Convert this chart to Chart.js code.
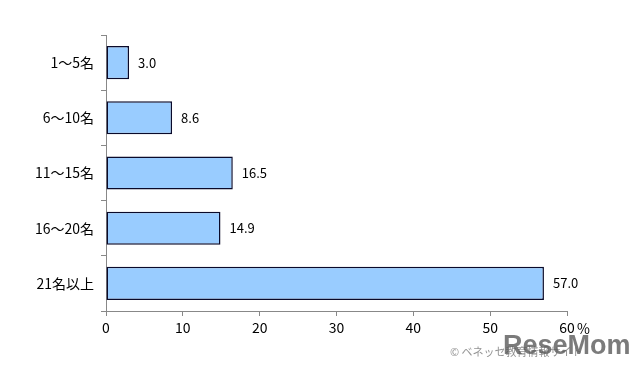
<!DOCTYPE html>
<html>
<head>
<meta charset="utf-8">
<script src="https://cdn.jsdelivr.net/npm/chart.js@4"></script>
<style>
  html, body { margin: 0; padding: 0; background: #fff; }
  #wrap { width: 640px; height: 370px; position: relative; }
</style>
</head>
<body>
<div id="wrap"><canvas id="grafico"></canvas></div>
<script>
const categorias = ['1～5名', '6～10名', '11～15名', '16～20名', '21名以上'];
const valores = [3.0, 8.6, 16.5, 14.9, 57.0];
const ticksX = [0, 10, 20, 30, 40, 50, 60];

const fonte = '"Noto Sans CJK JP", "Noto Sans", sans-serif';

// rótulos de valor à direita das barras + "%" e marca d'água
const extras = {
  id: 'extras',
  afterDatasetsDraw(chart) {
    const ctx = chart.ctx;
    const meta = chart.getDatasetMeta(0);
    ctx.save();
    ctx.font = '13px ' + fonte;
    ctx.fillStyle = '#000';
    ctx.textBaseline = 'middle';
    ctx.textAlign = 'left';
    meta.data.forEach((bar, i) => {
      ctx.fillText(valores[i].toFixed(1), bar.x + 9, bar.y);
    });

    const x = chart.scales.x;
    ctx.font = '14px ' + fonte;
    ctx.fillText('%', x.getPixelForValue(60) + 10, 329);

    ctx.fillStyle = 'rgba(110,110,110,0.75)';
    ctx.font = '11px ' + fonte;
    ctx.fillText('© ベネッセ教育情報サイト', 450, 352);
    ctx.fillStyle = 'rgba(90,90,90,0.8)';
    ctx.font = 'bold 27px "Liberation Sans", sans-serif';
    ctx.fillText('ReseMom', 503, 347);
    ctx.restore();
  }
};

new Chart(document.getElementById('grafico'), {
  type: 'bar',
  data: {
    labels: categorias,
    datasets: [{
      data: valores,
      backgroundColor: '#99ccff',
      borderColor: '#0a0a2a',
      borderWidth: 1.5,
      borderSkipped: false,
      barPercentage: 0.6,
      categoryPercentage: 1
    }]
  },
  options: {
    indexAxis: 'y',
    responsive: true,
    maintainAspectRatio: false,
    animation: false,
    layout: { padding: { top: 35, right: 73, left: 0, bottom: 0 } },
    plugins: {
      legend: { display: false },
      tooltip: { enabled: false }
    },
    scales: {
      x: {
        min: 0,
        max: 60,
        afterBuildTicks(scale) { scale.ticks = ticksX.map(v => ({ value: v })); },
        afterFit(scale) { scale.height = 59; },
        grid: { display: true, drawOnChartArea: false, drawTicks: true, tickLength: 5, color: '#888' },
        border: { color: '#888', width: 1 },
        ticks: { color: '#000', font: { family: fonte, size: 14 }, padding: 3 }
      },
      y: {
        afterFit(scale) { scale.width = 106; },
        grid: { display: true, drawOnChartArea: false, offset: true, tickLength: 5, color: '#888' },
        border: { color: '#888', width: 1 },
        ticks: { color: '#000', font: { family: fonte, size: 14 }, padding: 7 }
      }
    }
  },
  plugins: [extras]
});
</script>
</body>
</html>
